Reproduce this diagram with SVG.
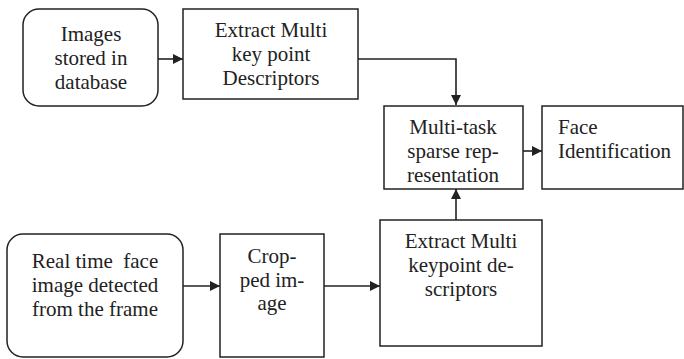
<svg xmlns="http://www.w3.org/2000/svg" width="684" height="359" viewBox="0 0 684 359">
<style>
.b{fill:#fff;stroke:#222;stroke-width:1.5}
.c{fill:none;stroke:#222;stroke-width:1.6}
text{font-family:'Liberation Serif','Tinos','Times New Roman','DejaVu Serif',serif;font-size:21px;fill:#222;text-anchor:middle}
.l{text-anchor:start}
</style>
<defs>
<marker id="ah" markerWidth="10" markerHeight="10" refX="10" refY="5" orient="auto" markerUnits="userSpaceOnUse">
<path d="M0,0 L10,5 L0,10 Z" fill="#222"/>
</marker>
</defs>
<rect width="684" height="359" fill="#fff"/>
<g id="connectors">
<line class="c" x1="158" y1="59" x2="183" y2="59" marker-end="url(#ah)"/>
<polyline class="c" points="358,59 456,59 456,105" marker-end="url(#ah)"/>
<line class="c" x1="523" y1="151" x2="542" y2="151" marker-end="url(#ah)"/>
<line class="c" x1="183" y1="286" x2="220" y2="286" marker-end="url(#ah)"/>
<line class="c" x1="324" y1="286" x2="380" y2="286" marker-end="url(#ah)"/>
<line class="c" x1="456" y1="220" x2="456" y2="189" marker-end="url(#ah)"/>
</g>
<g id="images-db">
<rect class="b" x="23" y="9" width="135" height="97" rx="16"/>
<text x="91" y="41">Images</text>
<text x="91" y="65">stored in</text>
<text x="91" y="89">database</text>
</g>
<g id="extract-db">
<rect class="b" x="183" y="9" width="175" height="90"/>
<text x="271" y="37">Extract Multi</text>
<text x="271" y="61">key point</text>
<text x="271" y="85">Descriptors</text>
</g>
<g id="mtsr">
<rect class="b" x="384" y="106" width="139" height="83"/>
<text x="453" y="134">Multi-task</text>
<text x="453" y="158">sparse rep-</text>
<text x="453" y="182">resentation</text>
</g>
<g id="face-id">
<rect class="b" x="542" y="106" width="141" height="83"/>
<text class="l" x="558" y="134">Face</text>
<text class="l" x="558" y="158">Identification</text>
</g>
<g id="realtime">
<rect class="b" x="7" y="234" width="176" height="123" rx="16"/>
<text x="95" y="268" xml:space="preserve">Real time  face</text>
<text x="95" y="292">image detected</text>
<text x="95" y="316">from the frame</text>
</g>
<g id="cropped">
<rect class="b" x="220" y="234" width="104" height="123"/>
<text x="272" y="263">Crop-</text>
<text x="272" y="287">ped im-</text>
<text x="272" y="310">age</text>
</g>
<g id="extract-rt">
<rect class="b" x="380" y="220" width="162" height="126"/>
<text x="461" y="248">Extract Multi</text>
<text x="461" y="272">keypoint de-</text>
<text x="461" y="296">scriptors</text>
</g>
</svg>
